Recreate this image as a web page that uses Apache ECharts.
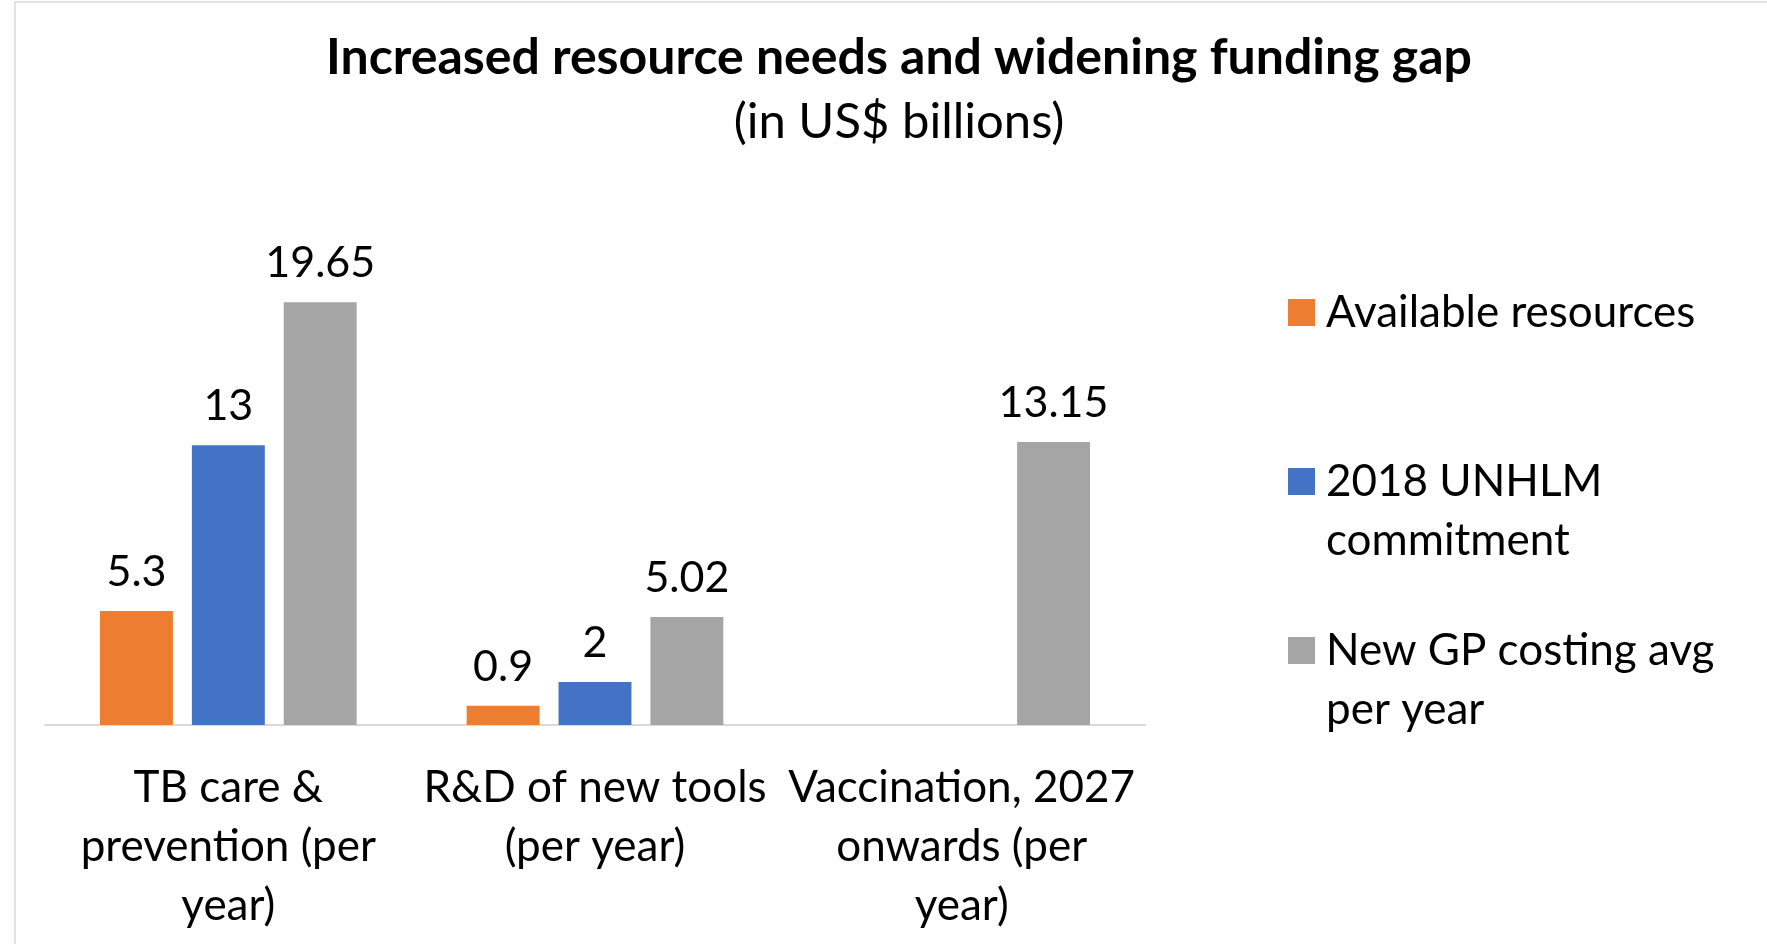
<!DOCTYPE html>
<html>
<head>
<meta charset="utf-8">
<script src="https://cdn.jsdelivr.net/npm/echarts@6/dist/echarts.min.js"></script>
<style>
  html, body { margin: 0; padding: 0; background: #fff; }
  #chart-container { width: 1767px; height: 944px; }
</style>
</head>
<body>
<div id="chart-container"></div>
<script>
const categories = ['TB care &\nprevention (per\nyear)', 'R&D of new tools\n(per year)', 'Vaccination, 2027\nonwards (per\nyear)'];
const seriesNames = ['Available resources', '2018 UNHLM commitment', 'New GP costing avg per year'];
// legend text as wrapped in the original
const legendLabels = ['Available resources', '2018 UNHLM\ncommitment', 'New GP costing avg\nper year'];
const availableResources = [5.3, 0.9, null];
const unhlmCommitment = [13, 2, null];
const newGpCosting = [19.65, 5.02, 13.15];
const colors = ['#ED7D31', '#4472C4', '#A5A5A5'];

const FONT = 'Lato';
const dom = document.getElementById('chart-container');
const myChart = window.echarts.init(dom, null, { renderer: 'canvas' });

const makeSeries = (name, values, color) => ({
  name,
  type: 'bar',
  data: values,
  barGap: '26%',
  barCategoryGap: '30%',
  itemStyle: { color },
  label: {
    show: true,
    position: 'top',
    distance: 17,
    fontFamily: FONT,
    fontSize: 43,
    lineHeight: 44,
    color: '#000'
  }
});

const option = {
  backgroundColor: '#fff',
  animation: false,
  title: {
    text: 'Increased resource needs and widening funding gap',
    subtext: '(in US$ billions)',
    left: 899,
    textAlign: 'center',
    top: 28,
    padding: 0,
    itemGap: 9,
    textStyle: { fontFamily: FONT, fontSize: 50, fontWeight: 'bold', color: '#000', lineHeight: 60 },
    subtextStyle: { fontFamily: FONT, fontSize: 49, color: '#000', lineHeight: 50 }
  },
  legend: {
    orient: 'vertical',
    left: 1283,
    top: 219,
    itemGap: -8,
    itemWidth: 27,
    itemHeight: 27,
    icon: 'rect',
    selectedMode: false,
    data: seriesNames,
    // a blank line above (and below for one-line items) keeps the marker beside the first line
    formatter: (name) => {
      const label = legendLabels[seriesNames.indexOf(name)];
      return label.includes('\n') ? `\n${label}` : `\n${label}\n`;
    },
    textStyle: { fontFamily: FONT, fontSize: 44, lineHeight: 59, color: '#000', padding: [0, 0, 0, 6] }
  },
  grid: { left: 45, right: 622, top: 187, bottom: 219 },
  xAxis: {
    type: 'category',
    data: categories,
    axisTick: { show: false },
    axisLine: { lineStyle: { color: '#D9D9D9', width: 2 } },
    axisLabel: {
      interval: 0,
      margin: 33,
      fontFamily: FONT,
      fontSize: 44,
      lineHeight: 59,
      color: '#000'
    }
  },
  yAxis: {
    type: 'value',
    min: 0,
    max: 25,
    show: false
  },
  graphic: [{
    type: 'rect',
    shape: { x: 15, y: 2, width: 1800, height: 1000 },
    style: { fill: 'none', stroke: '#D9D9D9', lineWidth: 1.5 },
    silent: true
  }],
  series: [
    makeSeries(seriesNames[0], availableResources, colors[0]),
    makeSeries(seriesNames[1], unhlmCommitment, colors[1]),
    makeSeries(seriesNames[2], newGpCosting, colors[2])
  ]
};
myChart.setOption(option);
window.addEventListener('resize', myChart.resize);
</script>
</body>
</html>
